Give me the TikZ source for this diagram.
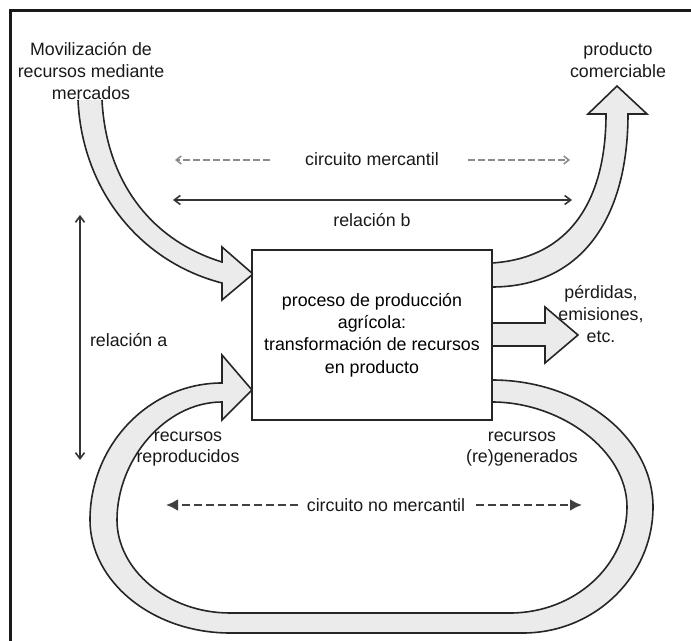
\documentclass[tikz,border=0pt]{standalone}
\usepackage{fontspec}
\setmainfont{Liberation Sans}
\usepackage{tikz}
\usetikzlibrary{arrows.meta, positioning}

\begin{document}
\begin{tikzpicture}[x=0.5pt, y=-0.5pt,
  procbox/.style={rectangle, draw=black!85, line width=1.3pt, fill=white,
                  minimum width=120pt, minimum height=85pt, align=center,
                  font=\fontsize{8.9}{11.2}\selectfont},
  lbl/.style={align=center, text=black!90, font=\fontsize{8.9}{10.8}\selectfont},
  band/.style={draw=black!85, line width=0.8pt, fill=black!8, line join=miter},
  relarrow/.style={{Straight Barb[length=3pt,width=4.5pt]}-{Straight Barb[length=3pt,width=4.5pt]},
                   draw=black!80, line width=0.8pt},
  dasharrow/.style={-{Straight Barb[length=2.5pt,width=4pt]}, draw=black!45,
                    line width=0.8pt, dash pattern=on 3.5pt off 1.5pt},
  ncarrow/.style={-{Latex[length=6pt,width=6pt]}, draw=black!75,
                  line width=1.3pt, dash pattern=on 4pt off 2pt}
]
\useasboundingbox (0,0) rectangle (691,641);
\draw[line width=1.5pt, black!90] (691,11) -- (10,11) -- (10,641);

\draw[band] (78,100) .. controls (82,190) and (140,262) .. (222,283) -- (222,300)
  -- (253,274) -- (222,247) -- (222,262) .. controls (150,240) and (106,180) .. (102,100);
\draw[band] (492,263) .. controls (570,258) and (606,200) .. (606,114) -- (588,114)
  -- (617,86) -- (647,114) -- (628,114) .. controls (628,220) and (580,287) .. (492,287);
\draw[band] (492,323) -- (545,323) -- (545,307) -- (578,335) -- (545,363)
  -- (545,346) -- (492,346);
\draw[band] (492,380) .. controls (580,380) and (653,437) .. (653,507)
  .. controls (653,576) and (595,633) .. (523,633) -- (230,633)
  .. controls (153,633) and (90,582) .. (90,520)
  .. controls (90,445) and (149,383) .. (222,383) -- (222,355) -- (252,390)
  -- (222,420) -- (222,402) .. controls (165,402) and (117,460) .. (117,520)
  .. controls (117,570) and (168,613) .. (230,613) -- (510,613)
  .. controls (575,613) and (627,565) .. (627,507)
  .. controls (627,450) and (560,402) .. (492,402);

\node[procbox] (proc) at (372,335) {proceso de producción\\agrícola:\\transformación de recursos\\en producto};

\node[lbl] (mov) at (91,71) {Movilización de\\recursos mediante\\mercados};
\node[lbl] (prod) at (618,60) {producto\\comerciable};
\node[lbl] (loss) at (601,314) {pérdidas,\\emisiones,\\etc.};
\node[lbl] (repr) at (188,449) {recursos\\reproducidos};
\node[lbl] (regen) at (522,449) {recursos\\(re)generados};
\node[lbl, anchor=west] (rela) at (83,340) {relación a};
\node[lbl] (relb) at (372,220) {relación b};
\node[lbl] (cm) at (372,159) {circuito mercantil};
\node[lbl] (cnm) at (386,505) {circuito no mercantil};

\coordinate (raT) at (80,215);
\coordinate (raB) at (80,460);
\coordinate (rbL) at (173,200);
\coordinate (rbR) at (572,200);
\coordinate (cmL) at (175,160);
\coordinate (cmR) at (570,160);
\coordinate (cnmL) at (166,505);
\coordinate (cnmR) at (582,505);

\draw[relarrow] (raT) -- (raB);
\draw[relarrow] (rbL) -- (rbR);
\draw[dasharrow] (270,160) -- (cmL);
\draw[dasharrow] (468,160) -- (cmR);
\draw[ncarrow] (298,505) -- (cnmL);
\draw[ncarrow] (476,505) -- (cnmR);
\end{tikzpicture}
\end{document}
